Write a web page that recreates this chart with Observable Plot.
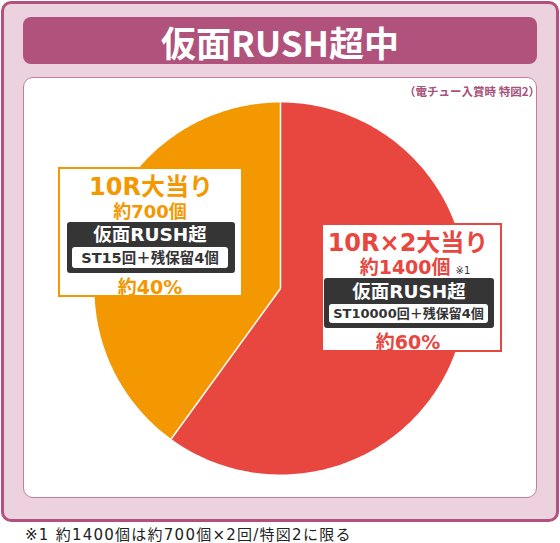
<!DOCTYPE html>
<html>
<head>
<meta charset="utf-8">
<script src="https://cdn.jsdelivr.net/npm/d3@7"></script>
<script src="https://cdn.jsdelivr.net/npm/@observablehq/plot@0.6"></script>
<style>
  html, body { margin: 0; padding: 0; background: #ffffff; }
  body { font-family: "DejaVu Sans", "Noto Sans CJK JP", sans-serif; }
  #wrap { position: relative; width: 560px; height: 543px; overflow: hidden; }
  .abs { position: absolute; box-sizing: border-box; }
  #frame { left: 1px; top: 1px; width: 558px; height: 521px; border: 3px solid #b4507d; border-radius: 10px; background: #ecd1de; }
  #titlebar { left: 23px; top: 17px; width: 514px; height: 47px; border-radius: 8px; background: #b0527b; }
  #title { left: 23px; top: 24px; width: 514px; text-align: center; color: #fff; font-weight: 700; font-size: 35px; line-height: 35px; font-family: "Noto Sans CJK JP", sans-serif; white-space: nowrap; }
  #panel { left: 23px; top: 77px; width: 514px; height: 421px; border: 1px solid #c47e9d; border-radius: 10px; background: #fff; }
  #subtitle { right: 20px; top: 85px; color: #a8527a; font-weight: 700; font-size: 11.5px; line-height: 12px; white-space: nowrap; font-family: "Noto Sans CJK JP", sans-serif; }
  #chart { left: 0; top: 0; }
  #foot { left: 25px; top: 528px; color: #222; font-size: 15px; line-height: 14px; letter-spacing: 1.25px; white-space: nowrap; }
  .box { background: #fff; border: 2px solid; }
  .line { text-align: center; font-weight: 700; white-space: nowrap; line-height: 1; }
  .dark { background: #353535; border-radius: 3px; }
  .pill { background: #fff; border-radius: 3px; }
</style>
</head>
<body>
<div id="wrap">
  <div id="frame" class="abs"></div>
  <div id="titlebar" class="abs"></div>
  <div id="title" class="abs"></div>
  <div id="panel" class="abs"></div>
  <div id="subtitle" class="abs"></div>
  <div id="chart" class="abs"></div>
  <div id="labels"></div>
  <div id="foot" class="abs"></div>
</div>
<script>
// ---- data ----
const categories = ["10R×2大当り", "10R大当り"];
const shares = [60, 40];
const sliceColors = ["#e8473f", "#f39800"];
const payouts = ["約1400個", "約700個"];
const modes = ["仮面RUSH超", "仮面RUSH超"];
const modeDetails = ["ST10000回＋残保留4個", "ST15回＋残保留4個"];
const shareLabels = ["約60%", "約40%"];
const titleText = "仮面RUSH超中";
const subtitleText = "（電チュー入賞時 特図2）";
const footText = "※1 約1400個は約700個×2回/特図2に限る";
const noteMark = "※1";

document.getElementById("title").textContent = titleText;
document.getElementById("subtitle").textContent = subtitleText;
document.getElementById("foot").textContent = footText;

// ---- pie geometry from the values (clockwise from top) ----
const arcs = d3.pie().sort(null).startAngle(0).endAngle(2 * Math.PI)(shares);
const pts = [];
arcs.forEach((a, i) => {
  pts.push({slice: categories[i], x: 0, y: 0});
  const n = Math.max(2, Math.ceil((a.endAngle - a.startAngle) / (Math.PI / 180)));
  for (let k = 0; k <= n; k++) {
    const t = a.startAngle + (a.endAngle - a.startAngle) * k / n;
    pts.push({slice: categories[i], x: Math.sin(t), y: Math.cos(t)});
  }
});
const edges = arcs.map(a => ({x: Math.sin(a.startAngle), y: Math.cos(a.startAngle)}));

const chart = Plot.plot({
  width: 560,
  height: 543,
  marginLeft: 94,
  marginRight: 94,
  marginTop: 102,
  marginBottom: 69,
  x: {domain: [-1, 1], axis: null},
  y: {domain: [-1, 1], axis: null},
  color: {domain: categories, range: sliceColors},
  style: {background: "transparent", overflow: "visible"},
  marks: [
    Plot.line(pts, {x: "x", y: "y", z: "slice", fill: "slice", stroke: null, curve: "linear-closed"}),
    Plot.link(edges, {x1: () => 0, y1: () => 0, x2: "x", y2: "y", stroke: "#ffffff", strokeWidth: 1.5})
  ]
});
document.getElementById("chart").appendChild(chart);

// ---- label boxes (layout) ----
const layout = [
  { // red 60%
    box: [321, 223, 181, 129], cat: [408, 242, 24], pay: [415, 267, 19], dark: [324, 278, 170, 50],
    mode: [409, 292, 18.5], pill: [329, 304, 159, 19], det: [408.5, 313.5, 13], share: [408, 342, 19]
  },
  { // orange 40%
    box: [58, 167, 185, 130], cat: [151, 186, 24], pay: [150, 211, 18], dark: [67, 222, 168, 51],
    mode: [150, 235, 18.5], pill: [72, 247, 156, 21], det: [150, 257.5, 14.5], share: [150, 287, 19]
  }
];
const labels = document.getElementById("labels");
function el(cls, css, html) {
  const d = document.createElement("div");
  d.className = "abs " + cls;
  Object.assign(d.style, css);
  if (html != null) d.innerHTML = html;
  labels.appendChild(d);
  return d;
}
function textLine(cx, cy, fs, color, html) {
  el("line", {left: (cx - 120) + "px", width: "240px", top: (cy - 0.47 * fs) + "px", height: fs + "px", fontSize: fs + "px", color}, html);
}
layout.forEach((L, i) => {
  const c = sliceColors[i];
  el("box", {left: L.box[0] + "px", top: L.box[1] + "px", width: L.box[2] + "px", height: L.box[3] + "px", borderColor: c});
  textLine(L.cat[0], L.cat[1], L.cat[2], c, categories[i]);
  const payHtml = i === 0
    ? payouts[i] + '<span style="font-size:10px;font-weight:400;color:#333;margin-left:5px;line-height:1">' + noteMark + '</span>'
    : payouts[i];
  textLine(L.pay[0], L.pay[1], L.pay[2], c, payHtml);
  el("dark", {left: L.dark[0] + "px", top: L.dark[1] + "px", width: L.dark[2] + "px", height: L.dark[3] + "px"});
  textLine(L.mode[0], L.mode[1], L.mode[2], "#ffffff", modes[i]);
  el("pill", {left: L.pill[0] + "px", top: L.pill[1] + "px", width: L.pill[2] + "px", height: L.pill[3] + "px"});
  textLine(L.det[0], L.det[1], L.det[2], "#333333", modeDetails[i]);
  textLine(L.share[0], L.share[1], L.share[2], c, shareLabels[i]);
});
</script>
</body>
</html>
